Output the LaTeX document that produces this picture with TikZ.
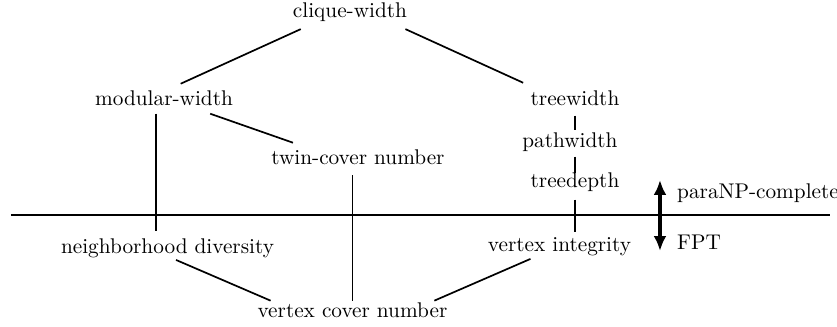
\documentclass[tikz,border=0pt]{standalone}
\usetikzlibrary{arrows.meta}
\begin{document}
\begin{tikzpicture}[scale=1,
    etiq/.style={anchor=base},
    etiqbaja/.style={anchor=base, inner sep=1pt},
    linea/.style={thick}]
    \useasboundingbox (0,0) rectangle (13.835,5.405);

    % Parametros por encima de la frontera
    \node[etiq] (cw) at (5.785, 5.116) {clique-width};
    \node[etiq] (mw) at (2.711, 3.653) {modular-width};
    \node[etiq] (tw) at (9.504, 3.669) {treewidth};
    \node[etiq] (pw) at (9.421, 2.959) {pathwidth};
    \node[etiq] (twin) at (5.917, 2.678) {twin-cover number};
    \node[etiq] (td) at (9.504, 2.298) {treedepth};

    % Parametros por debajo de la frontera
    \node[etiqbaja] (nd) at (2.769, 1.223) {neighborhood diversity};
    \node[etiqbaja] (vi) at (9.248, 1.240) {vertex integrity};
    \node[etiqbaja] (vc) at (5.826, 0.149) {vertex cover number};

    % Frontera
    \draw[very thick] (0.18, 1.851) -- (13.72, 1.851);

    % Relaciones
    \draw[linea] (cw.199) -- (mw.42);
    \draw[linea] (cw.343) -- (tw.north west);
    \draw[linea] (mw.342) -- (twin.167);
    \draw[linea] (mw.241) -- ([yshift=2pt]mw.241 |- nd.north);
    \draw[linea, shorten <=1.4pt, shorten >=-1.9pt] (tw.south) -- (tw.south |- pw.north);
    \draw[linea, shorten <=-1.4pt, shorten >=-3.3pt] (pw.south -| td.north) -- (td.north);
    \draw[linea] (td.south) -- ([yshift=1.5pt]td.south |- vi.north);
    \draw[linea] (vc.north) -- ([yshift=-1pt]vc.north |- twin.south);
    \draw[linea] (nd.305) -- (vc.173);
    \draw[linea] (vi.202) -- (vc.7);

    % Flecha de complejidad
    \coordinate (arriba) at (10.909, 2.430);
    \coordinate (abajo) at (10.909, 1.256);
    \draw[line width=1.5pt, {Latex[length=7pt,width=6pt]}-{Latex[length=7pt,width=6pt]}] (arriba) -- (abajo);
    \node[anchor=base west] (np) at (11.07, 2.116) {paraNP-complete};
    \node[anchor=base west] (fpt) at (11.07, 1.273) {FPT};
  \end{tikzpicture}
\end{document}
